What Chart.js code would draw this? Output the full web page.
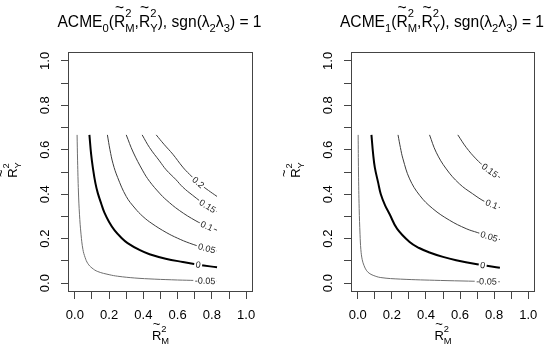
<!DOCTYPE html>
<html><head><meta charset="utf-8">
<script src="https://cdn.jsdelivr.net/npm/chart.js@4.4.1/dist/chart.umd.min.js"></script>
<style>
html,body{margin:0;padding:0;background:#fff;}
#wrap{position:relative;width:550px;height:351px;overflow:hidden;}
.c{position:absolute;top:0;width:275px;height:351px;}
</style></head><body>
<div id="wrap">
<div class="c" style="left:0"><canvas id="c0" width="275" height="351"></canvas></div>
<div class="c" style="left:275px"><canvas id="c1" width="275" height="351"></canvas></div>
</div>
<script>
// ---------------- DATA ----------------
const tickValues = [0, 0.1, 0.2, 0.3, 0.4, 0.5, 0.6, 0.7, 0.8, 0.9, 1.0];

// Left panel: ACME_0 contour levels
const acme0Levels = ['-0.05', '0', '0.05', '0.1', '0.15', '0.2'];
const acme0LabelX = [0.76, 0.72, 0.77, 0.77, 0.775, 0.72];
const acme0_m005_x = [0.013,0.016,0.021,0.027,0.036,0.047,0.060,0.076,0.100,0.134,0.200,0.250,0.350,0.463,0.600,0.700,0.830];
const acme0_m005_y = [0.667,0.550,0.410,0.310,0.220,0.152,0.115,0.088,0.068,0.052,0.038,0.031,0.023,0.018,0.014,0.012,0.009];
const acme0_0_x    = [0.085,0.095,0.105,0.120,0.134,0.155,0.172,0.200,0.231,0.270,0.308,0.380,0.436,0.530,0.630,0.720,0.830];
const acme0_0_y    = [0.667,0.580,0.520,0.450,0.405,0.355,0.318,0.275,0.238,0.205,0.180,0.148,0.130,0.110,0.095,0.083,0.071];
const acme0_005_x  = [0.190,0.205,0.223,0.250,0.300,0.350,0.397,0.450,0.533,0.600,0.669,0.750,0.830];
const acme0_005_y  = [0.667,0.600,0.537,0.475,0.390,0.338,0.300,0.268,0.228,0.202,0.180,0.160,0.145];
const acme0_01_x   = [0.300,0.340,0.397,0.436,0.494,0.533,0.610,0.707,0.770,0.830];
const acme0_01_y   = [0.667,0.590,0.505,0.458,0.405,0.375,0.327,0.280,0.257,0.238];
const acme0_015_x  = [0.393,0.436,0.494,0.533,0.591,0.630,0.688,0.766,0.830];
const acme0_015_y  = [0.667,0.610,0.550,0.510,0.465,0.432,0.395,0.350,0.322];
const acme0_02_x   = [0.475,0.520,0.572,0.630,0.669,0.727,0.780,0.830];
const acme0_02_y   = [0.667,0.625,0.580,0.522,0.490,0.448,0.417,0.390];

// Right panel: ACME_1 contour levels
const acme1Levels = ['-0.05', '0', '0.05', '0.1', '0.15'];
const acme1LabelX = [0.755, 0.733, 0.77, 0.785, 0.775];
const acme1_m005_x = [0.002,0.004,0.008,0.013,0.018,0.026,0.037,0.050,0.066,0.090,0.135,0.250,0.485,0.650,0.834];
const acme1_m005_y = [0.667,0.500,0.335,0.220,0.150,0.105,0.078,0.058,0.045,0.035,0.025,0.018,0.012,0.009,0.006];
const acme1_0_x    = [0.080,0.090,0.100,0.120,0.135,0.160,0.187,0.230,0.304,0.360,0.421,0.500,0.577,0.700,0.834];
const acme1_0_y    = [0.667,0.580,0.520,0.450,0.400,0.350,0.310,0.245,0.185,0.158,0.138,0.118,0.103,0.085,0.069];
const acme1_005_x  = [0.236,0.250,0.265,0.304,0.363,0.440,0.538,0.636,0.704,0.770,0.834];
const acme1_005_y  = [0.667,0.610,0.559,0.469,0.395,0.335,0.283,0.245,0.227,0.210,0.196];
const acme1_01_x   = [0.421,0.460,0.519,0.596,0.674,0.750,0.834];
const acme1_01_y   = [0.667,0.589,0.514,0.447,0.402,0.365,0.340];
const acme1_015_x  = [0.587,0.636,0.694,0.750,0.834];
const acme1_015_y  = [0.667,0.611,0.559,0.520,0.475];

// ---------------- RENDERING ----------------
const FONT = '"Liberation Sans", Arial, Helvetica, sans-serif';
function setFont(ctx, size){ ctx.font = size + 'px ' + FONT; }

function layoutMath(ctx, items, x0, y, size, draw){
  let x = x0;
  const small = size * 0.72;
  for (const it of items){
    if (it.base !== undefined){
      setFont(ctx, size);
      const w = ctx.measureText(it.base).width;
      if (draw){
        ctx.fillText(it.base, x, y);
        const tw = ctx.measureText('~').width;
        ctx.fillText('~', x + (w - tw) / 2, y - size * 0.9);
      }
      x += w;
      setFont(ctx, small);
      const w1 = ctx.measureText(it.sup).width, w2 = ctx.measureText(it.sub).width;
      if (draw){
        ctx.fillText(it.sup, x, y - size * 0.65);
        ctx.fillText(it.sub, x, y + size * 0.3);
      }
      x += Math.max(w1, w2);
    } else if (it.sub !== undefined){
      setFont(ctx, small);
      if (draw) ctx.fillText(it.sub, x, y + size * 0.3);
      x += ctx.measureText(it.sub).width;
    } else {
      setFont(ctx, size);
      if (draw) ctx.fillText(it.t, x, y);
      x += ctx.measureText(it.t).width;
    }
  }
  return x - x0;
}
function drawMathCentered(ctx, items, cx, y, size){
  const w = layoutMath(ctx, items, 0, 0, size, false);
  layoutMath(ctx, items, cx - w / 2, y, size, true);
}

function interp(data, x){
  if (x <= data[0].x) return data[0].y;
  for (let i = 1; i < data.length; i++){
    if (x <= data[i].x){
      const a = data[i-1], b = data[i];
      return a.y + (b.y - a.y) * (x - a.x) / (b.x - a.x);
    }
  }
  return data[data.length-1].y;
}

function buildSets(levels, labelX, xs, ys){
  return levels.map((lev, i) => ({
    data: xs[i].map((v, k) => ({x: v, y: ys[i][k]})),
    showLine: true,
    pointRadius: 0,
    borderColor: lev === '0' ? '#000' : (lev.startsWith('-') ? '#6e6e6e' : '#3c3c3c'),
    borderWidth: lev === '0' ? 2 : 1,
    tension: 0.4,
    fill: false,
    levelLabel: lev,
    labelX: labelX[i]
  }));
}

const contourLabels = {
  id: 'contourLabels',
  afterDatasetsDraw(chart){
    const ctx = chart.ctx, sx = chart.scales.x, sy = chart.scales.y, ca = chart.chartArea;
    ctx.save();
    ctx.beginPath(); ctx.rect(ca.left, ca.top, ca.right - ca.left, ca.bottom - ca.top); ctx.clip();
    chart.data.datasets.forEach(ds => {
      const lx = ds.labelX;
      const px = sx.getPixelForValue(lx), py = sy.getPixelForValue(interp(ds.data, lx));
      const d = 0.03;
      const ax = sx.getPixelForValue(lx - d), ay = sy.getPixelForValue(interp(ds.data, lx - d));
      const bx = sx.getPixelForValue(lx + d), by = sy.getPixelForValue(interp(ds.data, lx + d));
      const ang = Math.atan2(by - ay, bx - ax);
      ctx.save();
      ctx.translate(px, py); ctx.rotate(ang);
      setFont(ctx, 9);
      const w = ctx.measureText(ds.levelLabel).width;
      ctx.fillStyle = '#fff';
      ctx.fillRect(-w / 2 - 1.5, -5, w + 3, 10);
      ctx.fillStyle = '#222';
      ctx.textAlign = 'center'; ctx.textBaseline = 'middle';
      ctx.fillText(ds.levelLabel, 0, 0.5);
      ctx.restore();
    });
    ctx.restore();
  }
};

function makeDecor(titleItems){
  return {
    id: 'decor',
    afterDraw(chart){
      const ctx = chart.ctx, ca = chart.chartArea;
      ctx.save();
      ctx.strokeStyle = '#444'; ctx.lineWidth = 1;
      ctx.strokeRect(ca.left + 0.5, ca.top + 0.5, ca.right - ca.left - 1, ca.bottom - ca.top - 1);
      ctx.fillStyle = '#000'; ctx.textAlign = 'left'; ctx.textBaseline = 'alphabetic';
      const cx = (ca.left + ca.right) / 2;
      drawMathCentered(ctx, titleItems, cx - 1, 27, 15.6);
      drawMathCentered(ctx, [{base:'R', sup:'2', sub:'M'}], cx, 340, 13);
      ctx.save();
      ctx.translate(ca.left - 51, 170);
      ctx.rotate(-Math.PI / 2);
      drawMathCentered(ctx, [{base:'R', sup:'2', sub:'Y'}], 0, 0, 13);
      ctx.restore();
      ctx.restore();
    }
  };
}

function tickLabel(v){
  const k = Math.round(v * 10);
  return (k % 2 === 0) ? (k / 10).toFixed(1) : '';
}

function makeChart(id, sets, titleItems, yWidth, padRight){
  const axisCommon = {
    type: 'linear', min: -0.04, max: 1.04,
    afterBuildTicks(s){ s.ticks = tickValues.map(v => ({value: v})); },
    ticks: { autoSkip: false, includeBounds: false, color: '#000', font: {family: FONT, size: 13}, callback: tickLabel },
    grid: { display: true, drawOnChartArea: false, drawTicks: true, tickLength: 7, color: '#444', tickColor: '#444', tickWidth: 1 },
    border: { display: false }
  };
  return new Chart(document.getElementById(id), {
    type: 'scatter',
    data: { datasets: sets },
    options: {
      responsive: false, animation: false, devicePixelRatio: 1,
      layout: { padding: { left: 0, right: padRight, top: 52, bottom: 0 } },
      plugins: { legend: { display: false }, tooltip: { enabled: false }, title: { display: false } },
      scales: {
        x: Object.assign({}, axisCommon, {
          position: 'bottom',
          afterFit(s){ s.height = 59; },
          ticks: Object.assign({}, axisCommon.ticks, { maxRotation: 0, minRotation: 0, padding: 9 })
        }),
        y: Object.assign({}, axisCommon, {
          position: 'left',
          afterFit(s){ s.width = yWidth; },
          ticks: Object.assign({}, axisCommon.ticks, { minRotation: 90, maxRotation: 90, crossAlign: 'center', padding: 7 })
        })
      }
    },
    plugins: [contourLabels, makeDecor(titleItems)]
  });
}

const sets0 = buildSets(acme0Levels, acme0LabelX,
  [acme0_m005_x, acme0_0_x, acme0_005_x, acme0_01_x, acme0_015_x, acme0_02_x],
  [acme0_m005_y, acme0_0_y, acme0_005_y, acme0_01_y, acme0_015_y, acme0_02_y]);
const sets1 = buildSets(acme1Levels, acme1LabelX,
  [acme1_m005_x, acme1_0_x, acme1_005_x, acme1_01_x, acme1_015_x],
  [acme1_m005_y, acme1_0_y, acme1_005_y, acme1_01_y, acme1_015_y]);

function titleFor(n){
  return [{t:'ACME'},{sub:n},{t:'('},{base:'R',sup:'2',sub:'M'},{t:','},{base:'R',sup:'2',sub:'Y'},
          {t:'), sgn('},{t:'\u03BB'},{sub:'2'},{t:'\u03BB'},{sub:'3'},{t:') = 1'}];
}

makeChart('c0', sets0, titleFor('0'), 68, 22);
makeChart('c1', sets1, titleFor('1'), 76, 15);
</script>
</body></html>
